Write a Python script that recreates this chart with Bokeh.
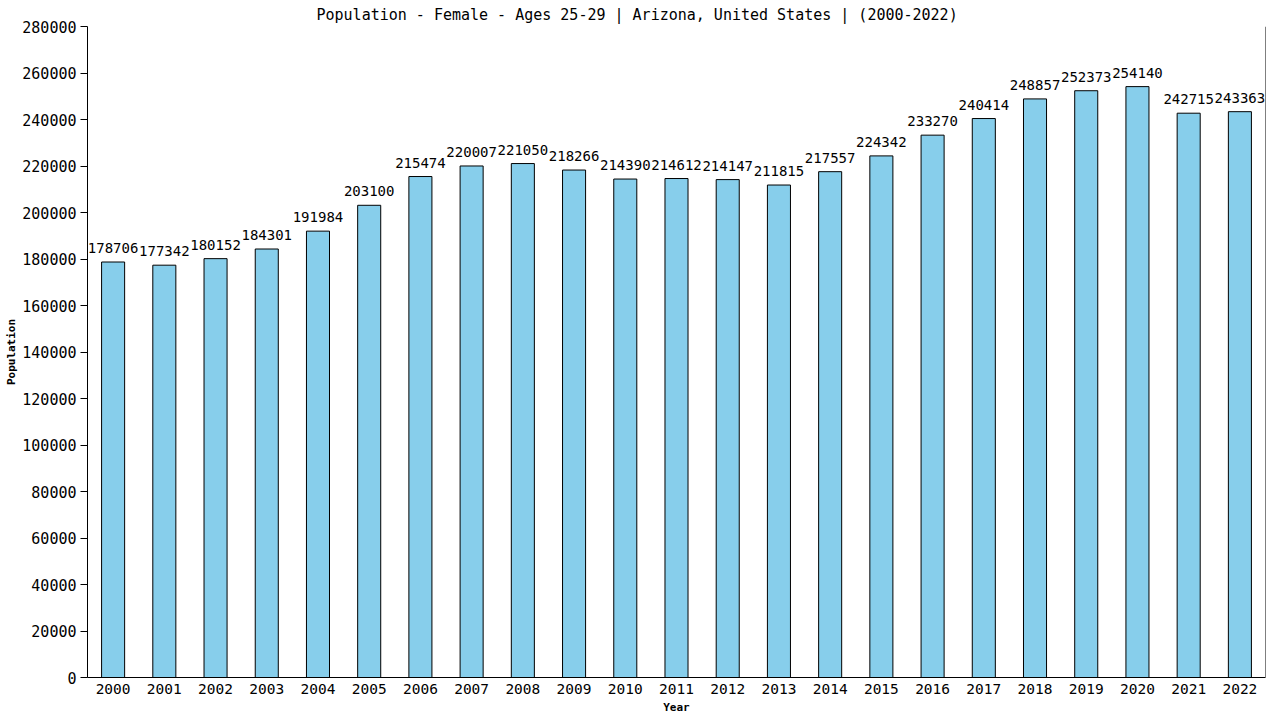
from bokeh.plotting import figure
from bokeh.models import ColumnDataSource, Range1d, FixedTicker, SingleIntervalTicker, BasicTickFormatter, Span
from bokeh.core.properties import value
from bokeh.embed import file_html
from bokeh.resources import INLINE

years = list(range(2000, 2023))
population = [178706, 177342, 180152, 184301, 191984, 203100, 215474, 220007, 221050,
              218266, 214390, 214612, 214147, 211815, 217557, 224342, 233270, 240414,
              248857, 252373, 254140, 242715, 243363]
labels = [str(v) for v in population]
title_text = "Population - Female - Ages 25-29 | Arizona, United States |  (2000-2022)"

FONT = "DejaVu Sans Mono"

src = ColumnDataSource(dict(x=years, y=population, t=labels))

p = figure(width=1280, height=720, output_backend="svg", toolbar_location=None,
           x_range=Range1d(1999.5, 2022.5), y_range=Range1d(0, 280000),
           min_border_left=87, min_border_right=15, min_border_top=26, min_border_bottom=43)

p.title.text = title_text
p.title.align = "left"
p.title.text_font = FONT
p.title.text_font_size = "15px"
p.title.text_font_style = "normal"
p.title.text_color = "black"
p.title.offset = 229
p.title.standoff = 6

p.vbar(x="x", top="y", width=0.45, source=src, fill_color="#87CEEB",
       line_color="black", line_width=1)
p.text(x="x", y="y", text="t", source=src, text_font=value(FONT),
       text_font_size="14px", text_align="center", text_baseline="bottom",
       y_offset=-9, text_color="black")

p.add_layout(Span(location=2022.5, dimension="height", line_color="black", line_width=1))

p.xgrid.visible = False
p.ygrid.visible = False
p.outline_line_color = None
p.background_fill_color = "white"
p.border_fill_color = "white"

xa = p.xaxis[0]
xa.ticker = FixedTicker(ticks=years)
xa.formatter = BasicTickFormatter(use_scientific=False)
xa.major_tick_line_color = None
xa.major_tick_out = 0
xa.major_tick_in = 0
xa.minor_tick_line_color = None
xa.minor_tick_out = 0
xa.major_label_text_font = FONT
xa.major_label_text_font_size = "14.5px"
xa.major_label_text_color = "black"
xa.major_label_standoff = 6
xa.axis_label = "Year"
xa.axis_label_text_font = FONT
xa.axis_label_text_font_size = "11px"
xa.axis_label_text_font_style = "bold"
xa.axis_label_text_color = "black"
xa.axis_label_standoff = 4
xa.axis_line_color = "black"

ya = p.yaxis[0]
ya.ticker = SingleIntervalTicker(interval=20000)
ya.formatter = BasicTickFormatter(use_scientific=False)
ya.major_tick_out = 7
ya.major_tick_in = 0
ya.minor_tick_line_color = None
ya.minor_tick_out = 0
ya.major_label_text_font = FONT
ya.major_label_text_font_size = "15px"
ya.major_label_text_color = "black"
ya.major_label_standoff = 4
ya.axis_label = "Population"
ya.axis_label_text_font = FONT
ya.axis_label_text_font_size = "11px"
ya.axis_label_text_font_style = "bold"
ya.axis_label_text_color = "black"
ya.axis_label_standoff = 1
ya.axis_line_color = "black"

open("out.html", "w").write(file_html(p, INLINE))
